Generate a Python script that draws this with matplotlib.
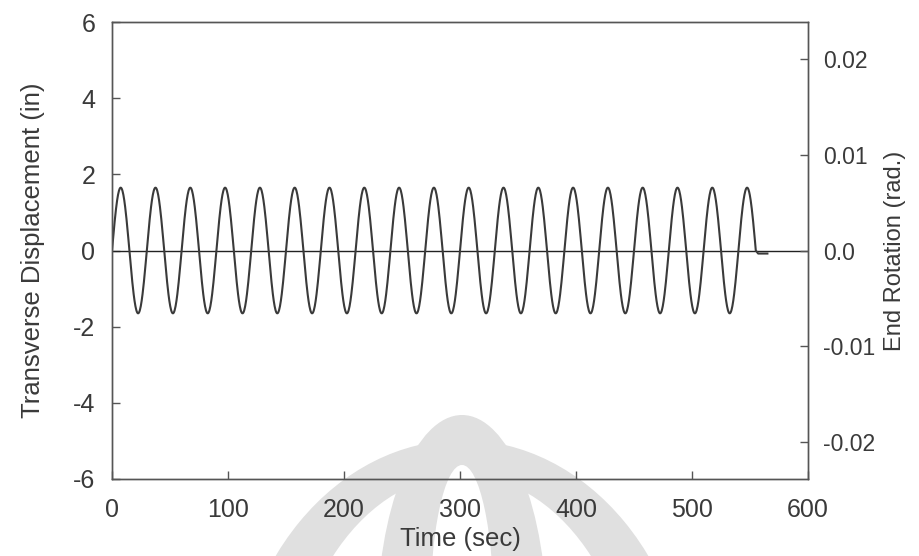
import numpy as np
import matplotlib.pyplot as plt
from matplotlib.patches import Ellipse

plt.rcParams['font.family'] = ['Liberation Sans', 'DejaVu Sans']
plt.rcParams['axes.unicode_minus'] = False

# turning points of the displacement history (sec, in)
peak_times = [0, 7.5, 22.5, 37.5, 52.5, 67.5, 82.5, 97.5, 112.5, 127.5, 142.5,
              157.5, 172.5, 187.5, 202.5, 217.5, 232.5, 247.5, 262.5, 277.5,
              292.5, 307.5, 322.5, 337.5, 352.5, 367.5, 382.5, 397.5, 412.5,
              427.5, 442.5, 457.5, 472.5, 487.5, 502.5, 517.5, 532.5, 547.5, 555]
peak_disp = [0, 1.65, -1.65, 1.65, -1.65, 1.65, -1.65, 1.65, -1.65, 1.65, -1.65,
             1.65, -1.65, 1.65, -1.65, 1.65, -1.65, 1.65, -1.65, 1.65,
             -1.65, 1.65, -1.65, 1.65, -1.65, 1.65, -1.65, 1.65, -1.65,
             1.65, -1.65, 1.65, -1.65, 1.65, -1.65, 1.65, -1.65, 1.65, 0]
# small offset after the test ends
tail_times = [555, 557, 565]
tail_disp = [0, -0.08, -0.08]

x_ticks = [0, 100, 200, 300, 400, 500, 600]
y_ticks = [-6, -4, -2, 0, 2, 4, 6]
rot_ticks = [-0.02, -0.01, 0.0, 0.01, 0.02]
rot_labels = ['-0.02', '-0.01', '0.0', '0.01', '0.02']

# smooth (sinusoidal) path between consecutive turning points
t_all, d_all = [], []
for i in range(len(peak_times) - 1):
    t0, t1 = peak_times[i], peak_times[i + 1]
    v0, v1 = peak_disp[i], peak_disp[i + 1]
    s = np.linspace(0, 1, 40)
    if v0 == 0:
        v = v1 * np.sin(np.pi / 2 * s)
    elif v1 == 0:
        v = v0 * np.cos(np.pi / 2 * s)
    else:
        v = v0 + (v1 - v0) * (1 - np.cos(np.pi * s)) / 2
    t_all.extend(t0 + (t1 - t0) * s)
    d_all.extend(v)
t_all.extend(tail_times)
d_all.extend(tail_disp)

fig = plt.figure(figsize=(9.19, 5.56), dpi=100)

# faint watermark behind the chart (pixel coordinates)
bg = fig.add_axes([0, 0, 1, 1], zorder=-1)
bg.set_xlim(0, 919)
bg.set_ylim(556, 0)
bg.axis('off')
wm = '#e0e0e0'
bg.add_patch(Ellipse((462, 720), 460, 560, color=wm, lw=0))
bg.add_patch(Ellipse((462, 725), 350, 500, color='white', lw=0))
bg.add_patch(Ellipse((462, 625), 170, 420, color=wm, lw=0))
bg.add_patch(Ellipse((462, 615), 64, 300, color='white', lw=0))

ax = fig.add_axes([112 / 919, 1 - 479 / 556, (808 - 112) / 919, (479 - 22) / 556])
ax.set_facecolor('none')

ax.axhline(0, color='#222222', lw=1.0)
ax.plot(t_all, d_all, color='#3a3a3a', lw=1.5)

txt = '#3a3a3a'
ax.set_xlim(0, 600)
ax.set_ylim(-6, 6)
ax.set_xticks(x_ticks)
ax.set_yticks(y_ticks)
ax.set_xlabel('Time (sec)', fontsize=18.5, color=txt, labelpad=3)
ax.set_ylabel('Transverse Displacement (in)', fontsize=18.5, color=txt, labelpad=20)
ax.tick_params(direction='in', length=6, width=1, colors='#555555',
               labelcolor=txt, labelsize=18)
ax.tick_params(axis='y', pad=12)
ax.tick_params(axis='x', pad=14, top=False)

ax2 = ax.twinx()
ax2.set_ylim(-0.0239, 0.0239)
ax2.set_yticks(rot_ticks)
ax2.set_yticklabels(rot_labels)
ax2.set_ylabel('End Rotation (rad.)', fontsize=17, color=txt, labelpad=6)
ax2.tick_params(direction='in', length=6, width=1, colors='#555555',
                labelcolor=txt, labelsize=16.5, pad=11)

for a in (ax, ax2):
    for sp in a.spines.values():
        sp.set_color('#555555')
        sp.set_linewidth(1)

fig.savefig('out.png', dpi=100)
